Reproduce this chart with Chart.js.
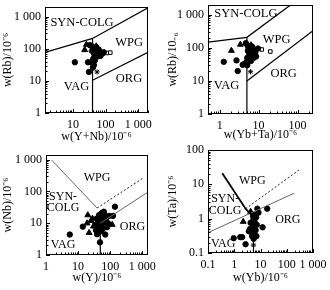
<!DOCTYPE html>
<html>
<head>
<meta charset="utf-8">
<script src="https://cdn.jsdelivr.net/npm/chart.js@4.4.1/dist/chart.umd.min.js"></script>
<style>
  body { margin: 0; background: #fff; }
  #wrap { position: relative; width: 330px; height: 290px; }
  canvas { position: absolute; }
</style>
</head>
<body>
<div id="wrap">
  <canvas id="c1" width="165" height="145" style="left:0;top:0"></canvas>
  <canvas id="c2" width="165" height="145" style="left:165px;top:0"></canvas>
  <canvas id="c3" width="165" height="145" style="left:0;top:145px"></canvas>
  <canvas id="c4" width="165" height="145" style="left:165px;top:145px"></canvas>
</div>
<script>
const FONT = "'Liberation Serif', 'Times New Roman', serif";

// panel 1: Rb vs Y+Nb
const p1Circles = [[33,130],[38,122],[42,108],[46,96],[40,88],[48,82],[44,72],[49,66],[55,72],[60,82],[66,76],[72,68],[80,71],[70,60],[58,58],[46,55],[42,48],[47,43],[40,38],[36,38],[29,38],[44,31],[41,26],[11.5,38],[31,19],[52,112],[88,78],[62,95]];
const p1Triangles = [[26,135],[23,92],[52,120]];
const p1Squares = [[110,74],[140,76]];
const p1Stars = [[55,19],[36,84]];
const p1Bounds = [[[1.4,77],[40,210],[2000,1900]], [[40,210],[40,1]], [[40,10.5],[2000,78]]];
const p1Labels = [["SYN-COLG",19,660],["WPG",525,158],["ORG",525,11.3],["VAG",13,6.4]];

// panel 2: Rb vs Yb+Ta
const p2Circles = [[4.7,140],[5.2,120],[5.5,102],[6.1,92],[5.3,82],[6.6,76],[7.1,68],[7.6,60],[8.2,72],[8.6,55],[6.1,55],[5.1,50],[5.7,45],[4.9,38],[4.3,33],[5.1,30],[6.3,40],[7.3,86],[9.6,96],[1.27,38],[2.7,42],[2.9,20],[3.9,31],[7.4,50],[6.8,110],[5.9,65]];
const p2Triangles = [[3.4,127],[2.0,83],[6.4,122]];
const p2Squares = [[12,90],[20,78]];
const p2Stars = [[6.2,19]];
const p2Bounds = [[[0.5,150],[5,210],[66,2000]], [[5,210],[5,1]], [[5,10],[250,330]]];
const p2Labels = [["SYN-COLG",4.7,1080],["WPG",29,182],["ORG",44,17],["VAG",1.5,7.4]];

// panel 3: Nb vs Y
const p3Circles = [[5.5,4.4],[14,7.8],[39,4.5],[48,2.5],[140,33],[122,17],[70,4.4],[40,10],[45,12.5],[50,15],[55,21],[60,13],[42,8],[48,7],[55,9.5],[65,11],[75,14],[85,10],[38,14],[34,9],[52,5.6],[92,17],[63,23],[45,18],[58,6.6],[80,7.5],[36,6]];
const p3Triangles = [[19,10],[22,5],[20,18],[115,9],[28,14],[30,8],[25,12],[72,18]];
const p3Solid = [[[1.5,970],[39,30]]];
const p3Dashed = [[[39,30],[1070,265]]];
const p3Thin = [[[49,10],[1500,96]]];
const p3Vertical = [[[49,10],[49,1]]];
const p3Labels = [["WPG",39,265],["SYN-",3.4,66],["COLG",3.4,30],["ORG",490,7.6],["VAG",3.4,2.1]];

// panel 4: Ta vs Yb
const p4Circles = [[0.95,0.27],[2.0,0.29],[2.7,0.18],[1.7,0.29],[18,1.95],[7.6,1.95],[12,0.56],[8.4,1.5],[5.4,0.95],[4.0,0.5],[4.5,0.41],[5.0,0.6],[5.5,0.7],[6.0,0.8],[6.5,0.46],[5.8,0.36],[4.8,0.31],[6.8,1.1],[7.2,0.66],[4.2,0.76],[5.2,1.2],[6.2,1.3],[3.6,0.43],[7.0,0.31],[5.5,0.26]];
const p4Triangles = [[2.2,0.82],[4.2,1.6]];
const p4Stars = [[5.4,0.17]];
const p4Thick = [[[0.35,21],[2.7,1.95],[5.4,1.1]]];
const p4Dashed = [[[2.7,1.95],[290,26]]];
const p4Thin = [[[0.1,0.39],[190,5.5]]];
const p4Vertical = [[[5.4,1.1],[5.4,0.1]]];
const p4Labels = [["WPG",4.9,12.3],["SYN-",0.45,3.9],["COLG",0.45,1.74],["ORG",110,0.93],["VAG",0.38,0.18]];

function xy(pts) {
  return pts.map(([x, y]) => ({ x, y }));
}

function lineSets(polys, width, dash, color) {
  return polys.map(p => ({
    showLine: true, data: xy(p), borderColor: color, borderWidth: width,
    borderDash: dash, pointRadius: 0, fill: false
  }));
}

function pointSet(pts, style, radius, fill) {
  return {
    data: xy(pts), pointStyle: style, pointRadius: radius,
    backgroundColor: fill, borderColor: "#000", borderWidth: 1
  };
}

function decadeLabel(v) {
  const e = Math.round(Math.log10(v));
  if (Math.abs(Math.log10(v) - e) > 1e-6) return "";
  if (e < 0) return Math.pow(10, e).toFixed(-e);
  if (e === 3) return "1 000";
  return String(Math.pow(10, e));
}

// frame + inward minor ticks
const framePlugin = {
  id: "frame",
  afterDraw(chart) {
    const { ctx, chartArea: a, scales } = chart;
    ctx.save();
    ctx.strokeStyle = "#000";
    ctx.lineWidth = 1;
    ctx.strokeRect(a.left + 0.5, a.top + 0.5, a.right - a.left - 1, a.bottom - a.top - 1);
    ["x", "y"].forEach(id => {
      const s = scales[id];
      const e0 = Math.floor(Math.log10(s.min)), e1 = Math.ceil(Math.log10(s.max));
      for (let e = e0; e <= e1; e++) {
        for (let m = 1; m <= 9; m++) {
          const v = m * Math.pow(10, e);
          if (v < s.min * 0.999 || v > s.max * 1.001) continue;
          const p = Math.round(s.getPixelForValue(v)) + 0.5;
          const len = m === 1 ? 4 : 2.5;
          ctx.beginPath();
          if (id === "x") { ctx.moveTo(p, a.bottom); ctx.lineTo(p, a.bottom - len); }
          else { ctx.moveTo(a.left, p); ctx.lineTo(a.left + len, p); }
          ctx.stroke();
        }
      }
    });
    ctx.restore();
  }
};

const regionPlugin = {
  id: "regions",
  afterDraw(chart, args, opts) {
    const { ctx, scales } = chart;
    ctx.save();
    ctx.fillStyle = "#000";
    ctx.font = opts.size + "px " + FONT;
    ctx.textAlign = "center";
    ctx.textBaseline = "middle";
    (opts.items || []).forEach(([t, x, y]) => {
      ctx.fillText(t, scales.x.getPixelForValue(x), scales.y.getPixelForValue(y));
    });
    ctx.restore();
  }
};

function makePanel(id, o) {
  const [left, top, right, bottom] = o.box;
  const tickFont = { family: FONT, size: 12 };
  return new Chart(document.getElementById(id), {
    type: "scatter",
    data: { datasets: o.datasets },
    plugins: [framePlugin, regionPlugin],
    options: {
      responsive: false,
      animation: false,
      layout: { padding: { left: 0, right: 165 - right, top: top, bottom: o.padB } },
      plugins: {
        legend: { display: false },
        tooltip: { enabled: false },
        regions: { items: o.labels, size: o.labelSize }
      },
      scales: {
        x: {
          type: "logarithmic", min: o.xMin, max: o.xMax,
          grid: { display: false, drawTicks: false }, border: { display: false },
          ticks: { autoSkip: false, maxRotation: 0, padding: 5, color: "#000", font: tickFont, callback: decadeLabel },
          title: { display: true, text: o.xTitle, color: "#000", font: tickFont, padding: { top: 0, bottom: 0 } },
          afterFit: s => {
            s.height = 145 - o.padB - bottom;
            s.paddingLeft = 0; s.paddingRight = 0;
          }
        },
        y: {
          type: "logarithmic", min: o.yMin, max: o.yMax,
          grid: { display: false, drawTicks: false }, border: { display: false },
          ticks: { autoSkip: false, padding: 4, color: "#000", font: tickFont, callback: decadeLabel },
          title: { display: true, text: o.yTitle, color: "#000", font: tickFont, padding: { top: 1, bottom: 0 } },
          afterFit: s => {
            s.width = left;
            s.paddingTop = 0; s.paddingBottom = 0;
          }
        }
      }
    }
  });
}

makePanel("c1", {
  box: [45, 7, 148, 113], padB: 1,
  xMin: 1.4, xMax: 2000, yMin: 1, yMax: 2000,
  xTitle: "w(Y+Nb)/10⁻⁶", yTitle: "w(Rb)/10⁻⁶",
  labels: p1Labels, labelSize: 12.5,
  datasets: [
    ...lineSets(p1Bounds, 1.2, [], "#000"),
    pointSet(p1Circles, "circle", 2.7, "#000"),
    pointSet(p1Triangles, "triangle", 3.4, "#000"),
    pointSet(p1Squares, "rect", 2.5, "#fff"),
    pointSet(p1Stars, "star", 2.6, "#000")
  ]
});

makePanel("c2", {
  box: [43, 5, 148, 114], padB: 3,
  xMin: 0.5, xMax: 250, yMin: 1, yMax: 2000,
  xTitle: "w(Yb+Ta)/10⁻⁶", yTitle: "w(Rb)/10₋₆",
  labels: p2Labels, labelSize: 12.5,
  datasets: [
    ...lineSets(p2Bounds, 1.2, [], "#000"),
    pointSet(p2Circles, "circle", 2.7, "#000"),
    pointSet(p2Triangles, "triangle", 3.4, "#000"),
    pointSet(p2Squares, "rect", 2.5, "#fff"),
    pointSet(p2Stars, "star", 2.6, "#000")
  ]
});

makePanel("c3", {
  box: [46, 10, 148, 110], padB: 5,
  xMin: 1, xMax: 1500, yMin: 1, yMax: 1400,
  xTitle: "w(Y)/10⁻⁶", yTitle: "w(Nb)/10⁻⁶",
  labels: p3Labels, labelSize: 12,
  datasets: [
    ...lineSets(p3Solid, 1, [], "#666"),
    ...lineSets(p3Dashed, 1, [2, 2], "#222"),
    ...lineSets(p3Thin, 1, [], "#666"),
    ...lineSets(p3Vertical, 1.2, [], "#000"),
    pointSet(p3Circles, "circle", 2.7, "#000"),
    pointSet(p3Triangles, "triangle", 3.4, "#000")
  ]
});

makePanel("c4", {
  box: [43, 5, 148, 108], padB: 5,
  xMin: 0.1, xMax: 1000, yMin: 0.1, yMax: 100,
  xTitle: "w(Yb)/10⁻⁶", yTitle: "w(Ta)/10⁻⁶",
  labels: p4Labels, labelSize: 12,
  datasets: [
    ...lineSets(p4Thick, 1.8, [], "#000"),
    ...lineSets(p4Dashed, 1, [2, 2], "#222"),
    ...lineSets(p4Thin, 1, [], "#666"),
    ...lineSets(p4Vertical, 1.2, [], "#000"),
    pointSet(p4Circles, "circle", 2.7, "#000"),
    pointSet(p4Triangles, "triangle", 3.4, "#000"),
    pointSet(p4Stars, "star", 2.6, "#000")
  ]
});
</script>
</body>
</html>
